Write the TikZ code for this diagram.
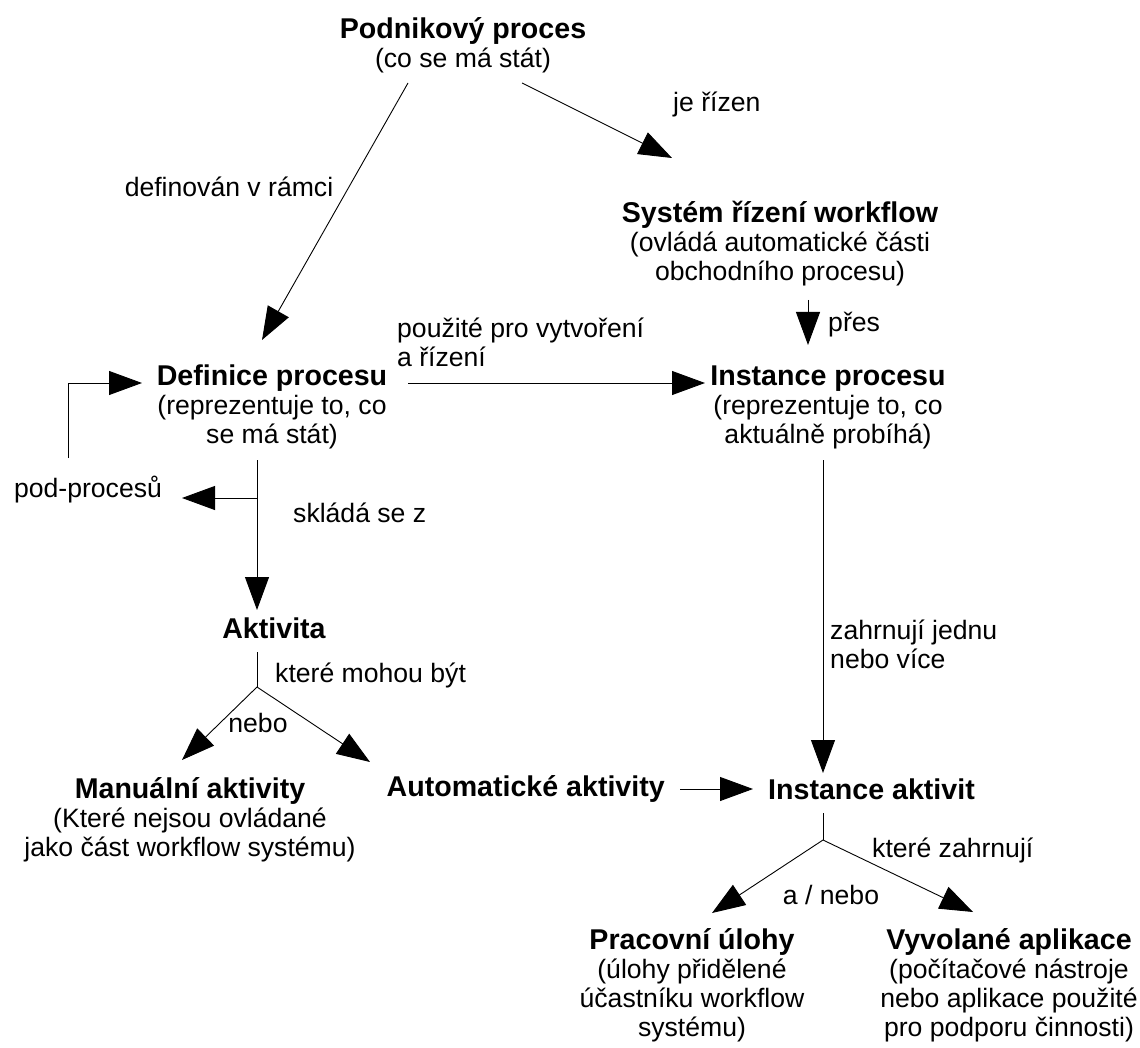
\documentclass[tikz,border=0pt]{standalone}
\usepackage{fontspec}
\setmainfont{Liberation Sans}
\usetikzlibrary{arrows.meta,positioning,calc}
\newcommand{\nazev}[1]{{\fontsize{28.6}{29}\selectfont\bfseries #1}}
\tikzset{
  blok/.style={align=center, inner sep=0pt, font=\fontsize{26.6}{29}\selectfont},
  popis/.style={inner sep=0pt, font=\fontsize{26.6}{29}\selectfont},
  sipka/.style={line width=0.9pt, -{Triangle[length=33pt,width=24pt]}},
  cara/.style={line width=0.9pt},
}

\begin{document}
\begin{tikzpicture}[x=1pt,y=-1pt]
    \useasboundingbox (0,0) rectangle (1140,1048);
    % uzly
    \node [blok] (podnik) at (463,45) {\nazev{Podnikový proces}\\(co se má stát)};
    \node [blok] (system) at (780,244) {\nazev{Systém řízení workflow}\\(ovládá automatické části\\obchodního procesu)};
    \node [blok] (definice) at (272,407) {\nazev{Definice procesu}\\(reprezentuje to, co\\se má stát)};
    \node [blok] (instproc) at (828,407) {\nazev{Instance procesu}\\(reprezentuje to, co\\aktuálně probíhá)};
    \node [blok] (aktivita) at (274,628) {\nazev{Aktivita}};
    \node [blok] (manual) at (190,820) {\nazev{Manuální aktivity}\\(Které nejsou ovládané\\jako část workflow systému)};
    \node [blok, anchor=east] (auto) at (665,789) {\nazev{Automatické aktivity}};
    \node [blok, anchor=west] (instakt) at (768,789) {\nazev{Instance aktivit}};
    \node [blok] (pracovni) at (692,985) {\nazev{Pracovní úlohy}\\(úlohy přidělené\\účastníku workflow\\systému)};
    \node [blok] (vyvolane) at (1009,985) {\nazev{Vyvolané aplikace}\\(počítačové nástroje\\nebo aplikace použité\\pro podporu činnosti)};

    % popisky
    \node [popis, anchor=west] (jerizen) at (673,104) {je řízen};
    \node [popis] (definovan) at (229,187) {definován v rámci};
    \node [popis, anchor=west] (pres) at (828,325) {přes};
    \node [popis, align=left, anchor=north west] (pouzite) at (397,318) {použité pro vytvoření\\a řízení};
    \node [popis] (podproc) at (88,490) {pod-procesů};
    \node [popis, anchor=west] (sklada) at (293,513) {skládá se z};
    \node [popis, align=left, anchor=north west] (zahrnuji) at (830,620) {zahrnují jednu\\nebo více};
    \node [popis, anchor=west] (mohou) at (275,675) {které mohou být};
    \node [popis] (nebo) at (258,723) {nebo};
    \node [popis, anchor=west] (ktere) at (872,850) {které zahrnují};
    \node [popis] (anebo) at (831,895) {a / nebo};

    % body
    \coordinate (p1) at (408,83);
    \coordinate (p2) at (262,340);
    \coordinate (p3) at (522,83);
    \coordinate (p4) at (672,158);
    \coordinate (s1) at (808,300);
    \coordinate (s2) at (808,345);
    \coordinate (d1) at (408,383);
    \coordinate (d2) at (705,383);
    \coordinate (d3) at (257,460);
    \coordinate (d4) at (257,498);
    \coordinate (d5) at (182,498);
    \coordinate (d6) at (257,610);
    \coordinate (l1) at (68,458);
    \coordinate (l2) at (68,383);
    \coordinate (l3) at (142,383);
    \coordinate (i1) at (823,460);
    \coordinate (i2) at (823,773);
    \coordinate (a1) at (257,652);
    \coordinate (a2) at (257,687);
    \coordinate (a3) at (182,760);
    \coordinate (a4) at (370,762);
    \coordinate (h1) at (680,789);
    \coordinate (h2) at (753,789);
    \coordinate (k1) at (823,813);
    \coordinate (k2) at (823,840);
    \coordinate (k3) at (712,913);
    \coordinate (k4) at (973,912);

    % spojnice
    \draw [sipka] (p1) -- (p2);
    \draw [sipka] (p3) -- (p4);
    \draw [sipka] (s1) -- (s2);
    \draw [sipka] (d1) -- (d2);
    \draw [sipka] (d3) -- (d6);
    \draw [sipka] (d4) -- (d5);
    \draw [sipka] (l1) -- (l2) -- (l3);
    \draw [sipka] (i1) -- (i2);
    \draw [cara] (a1) -- (a2);
    \draw [sipka] (a2) -- (a3);
    \draw [sipka] (a2) -- (a4);
    \draw [sipka] (h1) -- (h2);
    \draw [cara] (k1) -- (k2);
    \draw [sipka] (k2) -- (k3);
    \draw [sipka] (k2) -- (k4);
\end{tikzpicture}
\end{document}
